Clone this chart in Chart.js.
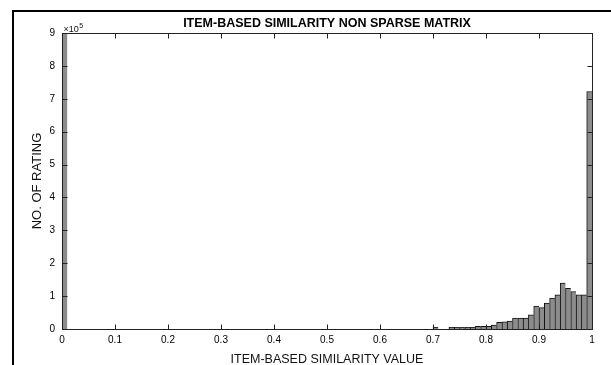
<!DOCTYPE html>
<html>
<head>
<meta charset="utf-8">
<title>Item-based similarity histogram</title>
<script src="https://cdn.jsdelivr.net/npm/chart.js@4.4.0/dist/chart.umd.min.js"></script>
<style>
  body { margin: 0; background: #fff; }
  #wrap { position: relative; width: 611px; height: 365px; overflow: hidden; }
  /* the figure frame that runs off the right and bottom edge */
  #frame { position: absolute; left: 12px; top: 10px; width: 700px; height: 400px;
           border-top: 2px solid #000; border-left: 2px solid #000; pointer-events: none; }
</style>
</head>
<body>
<div id="wrap">
  <canvas id="simChart" width="611" height="365"></canvas>
  <div id="frame"></div>
</div>
<script>
// ======= DATA =======
const chartTitle = "ITEM-BASED SIMILARITY NON SPARSE MATRIX";
const xTitle = "ITEM-BASED SIMILARITY VALUE";
const yTitle = "NO. OF RATING";
const binWidth = 0.01;

// ratings per similarity bin, in units of 10^5 (100 bins, 0 .. 1)
const ratingCounts = [
  9.00, 0, 0, 0, 0, 0, 0, 0, 0, 0,
  0, 0, 0, 0, 0, 0, 0, 0, 0, 0,
  0, 0, 0, 0, 0, 0, 0, 0, 0, 0,
  0, 0, 0, 0, 0, 0, 0, 0, 0, 0,
  0, 0, 0, 0, 0, 0, 0, 0, 0, 0,
  0, 0, 0, 0, 0, 0, 0, 0, 0, 0,
  0, 0, 0, 0, 0, 0, 0, 0, 0, 0,
  0.05, 0, 0, 0.05, 0.05, 0.05, 0.05, 0.05, 0.08, 0.08,
  0.08, 0.12, 0.20, 0.22, 0.24, 0.33, 0.33, 0.33, 0.43, 0.70,
  0.65, 0.79, 0.94, 1.04, 1.40, 1.24, 1.14, 1.04, 1.04, 7.22
];

// bin centres on the similarity axis
const binCenters = ratingCounts.map((_, i) => +((i + 0.5) * binWidth).toFixed(3));

const xTickValues = [0, 0.1, 0.2, 0.3, 0.4, 0.5, 0.6, 0.7, 0.8, 0.9, 1];
const xTickLabels = ["0", "0.1", "0.2", "0.3", "0.4", "0.5", "0.6", "0.7", "0.8", "0.9", "1"];
const yTickValues = [0, 1, 2, 3, 4, 5, 6, 7, 8, 9];
const yTickLabels = ["0", "1", "2", "3", "4", "5", "6", "7", "8", "9"];
const yExponent = "5";

const FONT = '"Liberation Sans", Arial, sans-serif';
const tickLen = 5;

// ======= MATLAB STYLE BOX, INWARD TICKS AND x10^5 NOTE =======
const matlabAxes = {
  id: 'matlabAxes',
  afterDatasetsDraw(chart) {
    const { ctx, chartArea: a, scales: { x, y } } = chart;
    ctx.save();
    ctx.strokeStyle = '#222';
    ctx.lineWidth = 1;
    const L = Math.round(a.left) + 0.5, R = Math.round(a.right) + 0.5;
    const T = Math.round(a.top) + 0.5, B = Math.round(a.bottom) + 0.5;
    ctx.strokeRect(L, T, R - L, B - T);

    ctx.beginPath();
    xTickValues.forEach(v => {
      const px = Math.round(x.getPixelForValue(v)) + 0.5;
      ctx.moveTo(px, B); ctx.lineTo(px, B - tickLen);
      ctx.moveTo(px, T); ctx.lineTo(px, T + tickLen);
    });
    yTickValues.forEach(v => {
      const py = Math.round(y.getPixelForValue(v)) + 0.5;
      ctx.moveTo(L, py); ctx.lineTo(L + tickLen, py);
      ctx.moveTo(R, py); ctx.lineTo(R - tickLen, py);
    });
    ctx.stroke();

    // exponent note above the y axis
    ctx.fillStyle = '#111';
    ctx.textBaseline = 'alphabetic';
    ctx.textAlign = 'left';
    ctx.font = '9px ' + FONT;
    const base = '\u00d710';
    ctx.fillText(base, L + 1, T - 2);
    const w = ctx.measureText(base).width;
    ctx.font = '7px ' + FONT;
    ctx.fillText(yExponent, L + 1 + w + 0.5, T - 6);
    ctx.restore();
  }
};

// ======= CHART =======
new Chart(document.getElementById('simChart').getContext('2d'), {
  type: 'bar',
  data: {
    datasets: [{
      data: binCenters.map((c, i) => ({ x: c, y: ratingCounts[i] })),
      backgroundColor: '#8c8c8c',
      borderColor: '#111',
      borderWidth: { left: 1, top: 1, right: 0, bottom: 0 },
      barPercentage: 1,
      categoryPercentage: 1
    }]
  },
  options: {
    responsive: false,
    animation: false,
    layout: { padding: { left: 0, right: 19, top: 0, bottom: 0 } },
    plugins: {
      legend: { display: false },
      tooltip: { enabled: false },
      title: {
        display: true,
        fullSize: false,   // centre the title over the plot box, not the canvas
        text: chartTitle,
        color: '#000',
        font: { family: FONT, size: 12.5, weight: 'bold', lineHeight: 1.2 },
        padding: { top: 16.5, bottom: 1.5 }
      }
    },
    scales: {
      x: {
        type: 'linear',
        min: 0,
        max: 1,
        offset: false,
        grid: { display: false, offset: false, drawTicks: false },
        border: { display: false },
        afterBuildTicks: s => { s.ticks = xTickValues.map(v => ({ value: v })); },
        afterFit: s => { s.height = 36; },
        ticks: {
          padding: 5,
          color: '#000',
          maxRotation: 0,
          autoSkip: false,
          font: { family: FONT, size: 10 },
          callback: (v, i) => xTickLabels[i]
        },
        title: {
          display: true,
          text: xTitle,
          color: '#111',
          font: { family: FONT, size: 12.5 },
          padding: { top: 0, bottom: -2 }
        }
      },
      y: {
        min: 0,
        max: 9,
        grid: { display: false, drawTicks: false },
        border: { display: false },
        afterBuildTicks: s => { s.ticks = yTickValues.map(v => ({ value: v })); },
        afterFit: s => { s.width = 62; },
        ticks: {
          padding: 7,
          color: '#000',
          font: { family: FONT, size: 10 },
          callback: (v, i) => yTickLabels[i]
        },
        title: {
          display: true,
          text: yTitle,
          color: '#111',
          font: { family: FONT, size: 13 },
          padding: { top: 30, bottom: 0 }
        }
      }
    }
  },
  plugins: [matlabAxes]
});
</script>
</body>
</html>
